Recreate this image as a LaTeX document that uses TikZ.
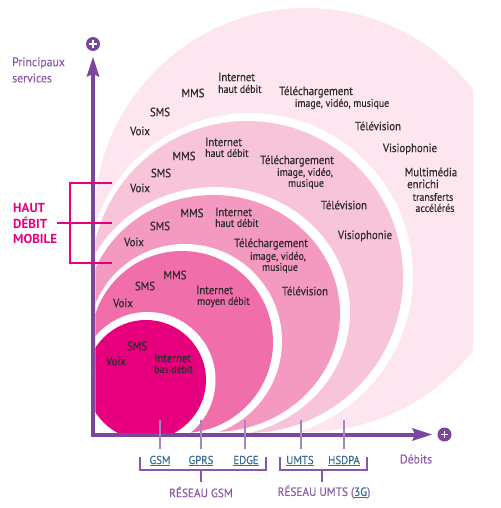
\documentclass[tikz,border=0pt]{standalone}
\usepackage{fontspec}
\setmainfont{PT Sans}
\newfontfamily\lblfont[FakeStretch=0.9,FakeBold=0.4]{PT Sans}
\newfontfamily\netfont[FakeStretch=0.94,FakeBold=0.3]{PT Sans}
\definecolor{cA}{HTML}{E6007E}
\definecolor{cB}{HTML}{F06EA9}
\definecolor{cC}{HTML}{F49AC1}
\definecolor{cD}{HTML}{F8C4DA}
\definecolor{cE}{HTML}{FDE6EF}
\definecolor{axiscol}{HTML}{7B469E}
\definecolor{tickcol}{HTML}{A584C4}
\definecolor{brkcol}{HTML}{8A55AC}
\definecolor{labpurple}{HTML}{8A5AA8}
\definecolor{netblue}{HTML}{3A6D96}
\definecolor{hautcol}{HTML}{E6007E}
\definecolor{txt}{HTML}{2E2A2C}
\tikzset{
  lbl/.style={inner sep=0pt, text=txt, font=\lblfont\fontsize{12}{13}\selectfont},
  sublbl/.style={inner sep=0pt, text=txt, font=\lblfont\fontsize{11}{12}\selectfont},
  axisline/.style={draw=axiscol, line width=4pt},
  pluscirc/.style={circle, fill=axiscol, minimum size=14pt, inner sep=0pt},
  plusbar/.style={draw=white, line width=1.5pt},
  ticklne/.style={draw=tickcol, line width=2.5pt},
  brk/.style={draw=brkcol, line width=2.5pt},
  hbr/.style={draw=hautcol, line width=2pt},
  hauttxt/.style={inner sep=0pt, anchor=west, text=hautcol, font=\fontsize{13}{14}\selectfont\bfseries},
  axtxt/.style={inner sep=0pt, text=labpurple, font=\netfont\fontsize{12.5}{13}\selectfont},
  nettxt/.style={inner sep=0pt, text=netblue, font=\netfont\fontsize{11.5}{12}\selectfont},
  restxt/.style={inner sep=0pt, text=labpurple, font=\netfont\fontsize{12}{13}\selectfont},
}
\begin{document}
\begin{tikzpicture}[x=1pt,y=-1pt]
\useasboundingbox (0,0) rectangle (500,508);
% ---- nested zones
\begin{scope}
\clip (95.3,0) rectangle (473,432.5);
\fill[cE] (306,220) circle[radius=212];
\fill[white] (250,276) circle[radius=163];
\fill[cD] (247,277) circle[radius=156];
\fill[white] (215,312) ellipse[x radius=135,y radius=125];
\fill[cC] (213,313.5) ellipse[x radius=127,y radius=118.5];
\fill[white] (185,341) circle[radius=97];
\fill[cB] (182,342) circle[radius=91];
\fill[white] (147.5,380) circle[radius=68];
\fill[cA] (146,380) circle[radius=60];
\end{scope}
% ---- zone 5 texts
\node[lbl] (e1) at (140,131) {Voix};
\node[lbl] (e2) at (160,112) {SMS};
\node[lbl] (e3) at (193,93) {MMS};
\node[lbl,anchor=west] (e4) at (218,77) {Internet};
\node[sublbl,anchor=west] (e5) at (218,89) {haut débit};
\node[lbl] (e6) at (316,92) {Téléchargement};
\node[sublbl] (e7) at (342,104) {image, vidéo, musique};
\node[lbl] (e8) at (378,126) {Télévision};
\node[lbl] (e9) at (410,149) {Visiophonie};
\node[lbl] (e10) at (431,172) {Multimédia};
\node[lbl] (e11) at (423,184) {enrichi};
\node[sublbl] (e12) at (433,197) {transferts};
\node[sublbl] (e13) at (435,208) {accélérés};
% ---- zone 4 texts
\node[lbl] (d1) at (140,188) {Voix};
\node[lbl] (d2) at (161,173) {SMS};
\node[lbl] (d3) at (184,156) {MMS};
\node[lbl,anchor=west] (d4) at (205,142) {Internet};
\node[sublbl,anchor=west] (d5) at (205,153) {haut débit};
\node[lbl] (d6) at (297,161) {Téléchargement};
\node[sublbl] (d7) at (305,173) {image, vidéo,};
\node[sublbl] (d8) at (306,184) {musique};
\node[lbl] (d9) at (344,205) {Télévision};
\node[lbl] (d10) at (365,236) {Visiophonie};
% ---- zone 3 texts
\node[lbl] (c1) at (134,242) {Voix};
\node[lbl] (c2) at (160,226) {SMS};
\node[lbl] (c3) at (192,213) {MMS};
\node[lbl,anchor=west] (c4) at (215,212) {Internet};
\node[sublbl,anchor=west] (c5) at (215,223) {haut débit};
\node[lbl] (c6) at (271,244) {Téléchargement};
\node[sublbl] (c7) at (278,257) {image, vidéo,};
\node[sublbl] (c8) at (280,268) {musique};
\node[lbl] (c9) at (305,291) {Télévision};
% ---- zone 2 texts
\node[lbl] (b1) at (123,303) {Voix};
\node[lbl] (b2) at (145,286) {SMS};
\node[lbl] (b3) at (175,275) {MMS};
\node[lbl,anchor=west] (b4) at (196,290) {Internet};
\node[sublbl,anchor=west] (b5) at (197,302) {moyen débit};
% ---- zone 1 texts
\node[lbl] (a1) at (116,361) {Voix};
\node[lbl] (a2) at (137,346) {SMS};
\node[lbl,anchor=west] (a3) at (154,358) {Internet};
\node[sublbl,anchor=west] (a4) at (154,369) {bas débit};
% ---- axes
\coordinate (org) at (93,434.5);
\coordinate (ytip) at (93,57);
\coordinate (ybase) at (93,74);
\coordinate (xtip) at (432,434.5);
\coordinate (xbase) at (415,434.5);
\draw[axisline,line cap=rect] (org) -- (ybase);
\draw[axisline,line cap=rect] (org) -- (xbase);
\fill[axiscol] (ytip) -- ++(6.5,20) -- ++(-6.5,-3) -- ++(-6.5,3) -- cycle;
\fill[axiscol] (xtip) -- ++(-20,-6.5) -- ++(3,6.5) -- ++(-3,6.5) -- cycle;
\node[pluscirc] (yplus) at (93,44) {};
\node[pluscirc] (xplus) at (444.5,434.5) {};
\foreach \p in {yplus,xplus}{
  \draw[plusbar] ([xshift=-3.6pt]\p.center) -- ([xshift=3.6pt]\p.center);
  \draw[plusbar] ([yshift=-3.6pt]\p.center) -- ([yshift=3.6pt]\p.center);
}
\node[axtxt,anchor=west] (ps1) at (12,63) {Principaux};
\node[axtxt,anchor=west] (ps2) at (12,78) {services};
\node[axtxt] (deb) at (416,459) {Débits};
% ---- haut debit mobile
\draw[hbr] (112,183) -- (70,183) -- (70,263) -- (112,263);
\draw[hbr] (57,223) -- (112,223);
\node[hauttxt] (h1) at (13,208) {HAUT};
\node[hauttxt] (h2) at (13,223) {DÉBIT};
\node[hauttxt] (h3) at (13,239) {MOBILE};
% ---- ticks and networks
\foreach \x in {160,201,245,301,344}{
  \draw[ticklne] (\x,420) -- (\x,449);
}
\node[nettxt] (gsm) at (160,461) {\underline{GSM}};
\node[nettxt] (gprs) at (201,461) {\underline{GPRS}};
\node[nettxt] (edge) at (246,461) {\underline{EDGE}};
\node[nettxt] (umts) at (300,461) {\underline{UMTS}};
\node[nettxt] (hsdpa) at (344,461) {\underline{HSDPA}};
\draw[brk] (140,457) -- (140,470) -- (266,470) -- (266,457);
\draw[brk] (201,470) -- (201,482);
\draw[brk] (280,457) -- (280,470) -- (367,470) -- (367,457);
\draw[brk] (322,470) -- (322,482);
\node[restxt] (rgsm) at (201,492) {RÉSEAU GSM};
\node[restxt] (rumts) at (324,492) {RÉSEAU UMTS (\textcolor{netblue}{\underline{3G}})};
\end{tikzpicture}
\end{document}
